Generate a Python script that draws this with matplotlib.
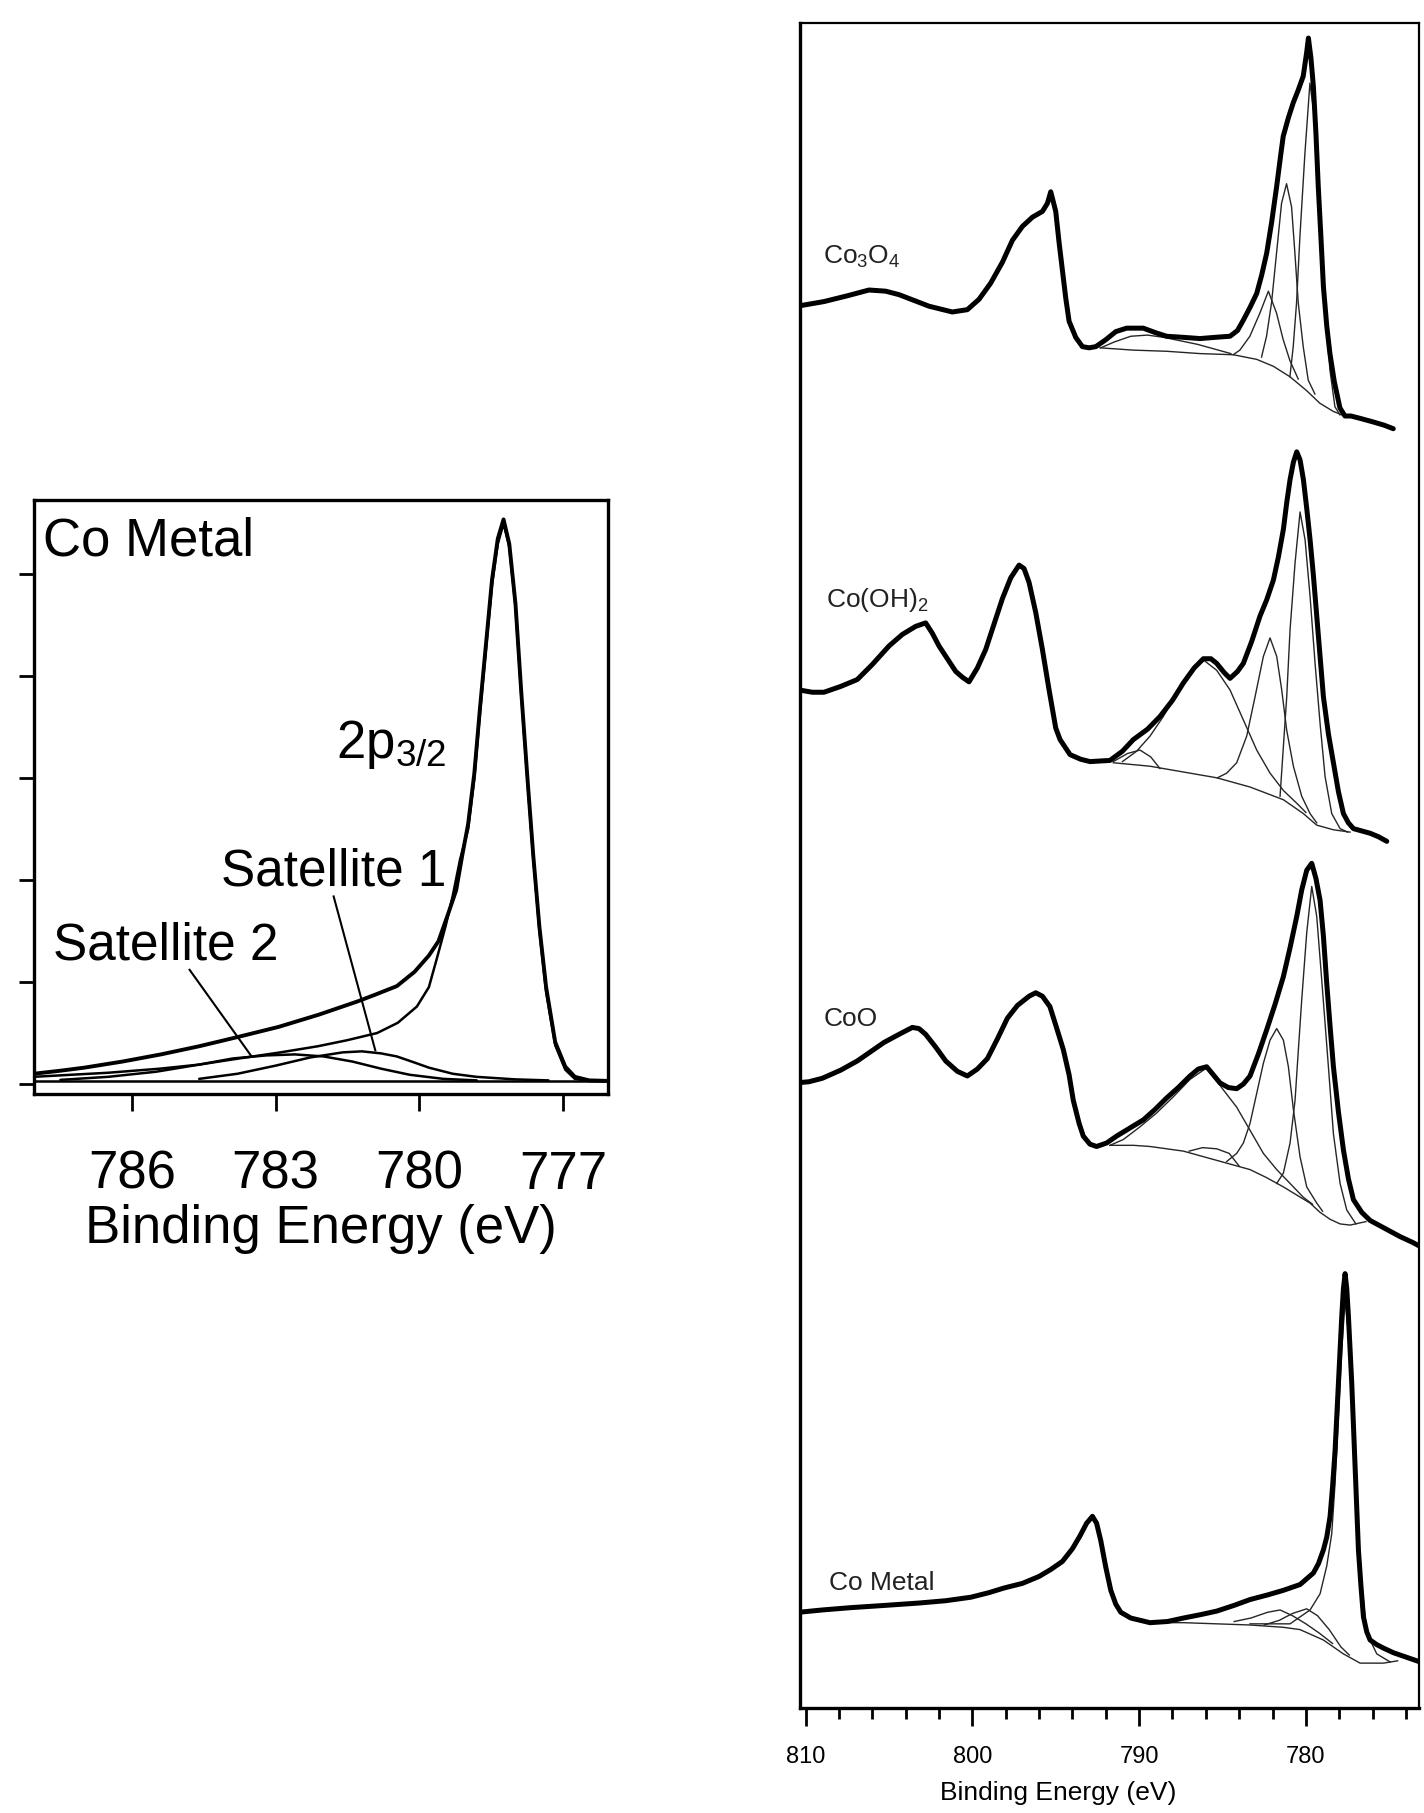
import numpy as np
import matplotlib
matplotlib.use("Agg")
import matplotlib.pyplot as plt
from matplotlib.ticker import MultipleLocator

plt.rcParams['font.family'] = ['Liberation Sans', 'DejaVu Sans']
plt.rcParams['mathtext.fontset'] = 'custom'
plt.rcParams['mathtext.rm'] = 'Liberation Sans'
plt.rcParams['mathtext.it'] = 'Liberation Sans'
plt.rcParams['mathtext.default'] = 'regular'

# ---------------- Left panel: Co metal 2p3/2 fit (binding energy eV, intensity a.u.) ----------------
left_env = [(788.06, 0.10), (787.5, 0.13), (787.0, 0.16), (786.2, 0.22), (785.4, 0.29), (784.6, 0.37),
            (783.8, 0.46), (782.94, 0.56), (782.1, 0.68), (781.29, 0.81), (780.9, 0.88), (780.47, 0.96),
            (780.1, 1.10), (779.8, 1.26), (779.6, 1.40), (779.39, 1.68), (779.23, 1.90), (779.1, 2.25),
            (778.98, 2.55), (778.85, 3.05), (778.73, 3.70), (778.6, 4.35), (778.48, 4.95), (778.36, 5.35),
            (778.24, 5.54), (778.12, 5.30), (777.99, 4.71), (777.87, 3.85), (777.74, 3.00), (777.62, 2.25),
            (777.49, 1.54), (777.35, 0.95), (777.16, 0.41), (776.95, 0.17), (776.75, 0.07), (776.45, 0.035),
            (776.05, 0.03)]
left_main = [(788.06, 0.07), (786.5, 0.11), (785.42, 0.15), (784.6, 0.19), (783.77, 0.25), (782.9, 0.31),
             (782.12, 0.37), (781.5, 0.43), (780.88, 0.50), (780.45, 0.60), (780.05, 0.76), (779.8, 0.95),
             (779.64, 1.22), (779.45, 1.55), (779.3, 1.85), (779.15, 2.2), (778.98, 2.50), (778.85, 3.0),
             (778.73, 3.65), (778.6, 4.3), (778.48, 4.9), (778.36, 5.3), (778.24, 5.5), (778.12, 5.27),
             (777.99, 4.68), (777.87, 3.82), (777.74, 2.97), (777.62, 2.22), (777.49, 1.5), (777.35, 0.9),
             (777.16, 0.38), (776.95, 0.14), (776.75, 0.05), (776.45, 0.03), (776.05, 0.03)]
left_sat1 = [(784.6, 0.05), (783.8, 0.10), (783.0, 0.18), (782.28, 0.26), (781.6, 0.31), (781.2, 0.32),
             (780.8, 0.30), (780.47, 0.27), (780.1, 0.21), (779.8, 0.16), (779.3, 0.10), (778.81, 0.07),
             (778.0, 0.045), (777.3, 0.035)]
left_sat2 = [(787.5, 0.04), (786.5, 0.07), (785.5, 0.12), (784.6, 0.19), (783.9, 0.25), (783.2, 0.28),
             (782.6, 0.29), (782.0, 0.27), (781.4, 0.22), (780.8, 0.15), (780.2, 0.09), (779.5, 0.05),
             (778.8, 0.035)]
left_base = [(788.06, 0.03), (776.05, 0.03)]
left_xticks = [786, 783, 780, 777]
left_yticks = [0, 1, 2, 3, 4, 5]

# ---------------- Right panel: Co 2p spectra (binding energy eV, offset intensity a.u.) ----------------
co3o4_env = [(810.5, 12.13), (808.9, 12.17), (807.5, 12.22), (806.2, 12.27), (805.2, 12.26), (804.4, 12.23),
             (803.5, 12.18), (802.6, 12.13), (801.2, 12.08), (800.3, 12.10), (799.6, 12.19), (798.9, 12.33),
             (798.2, 12.51), (797.6, 12.70), (797.0, 12.82), (796.4, 12.90), (795.8, 12.95), (795.5, 13.02),
             (795.3, 13.12), (795.0, 12.95), (794.8, 12.68), (794.6, 12.44), (794.4, 12.20), (794.2, 12.00),
             (793.8, 11.86), (793.4, 11.78), (793.0, 11.77), (792.6, 11.78), (792.0, 11.84), (791.4, 11.91),
             (790.75, 11.94), (789.75, 11.94), (789.0, 11.90), (788.35, 11.87), (787.3, 11.86), (786.35, 11.85),
             (785.5, 11.86), (784.55, 11.87), (784.1, 11.92), (783.75, 12.01), (783.35, 12.12), (782.95, 12.24),
             (782.65, 12.40), (782.35, 12.59), (782.05, 12.86), (781.75, 13.17), (781.5, 13.45), (781.36, 13.60),
             (781.05, 13.76), (780.76, 13.89), (780.46, 14.00), (780.16, 14.12), (779.95, 14.33), (779.85, 14.45),
             (779.7, 14.28), (779.55, 14.03), (779.4, 13.63), (779.26, 13.17), (779.1, 12.73), (778.95, 12.30),
             (778.75, 11.96), (778.56, 11.72), (778.3, 11.48), (777.96, 11.25), (777.66, 11.18), (777.3, 11.18),
             (776.76, 11.16), (776.0, 11.13), (775.3, 11.10), (774.76, 11.07)]
co3o4_bg = [(792.35, 11.77), (790.35, 11.75), (788.35, 11.74), (786.35, 11.72), (784.35, 11.71), (782.95, 11.67),
            (781.95, 11.61), (780.96, 11.52), (779.96, 11.40), (779.16, 11.29), (778.36, 11.22), (777.66, 11.18)]
co3o4_c1 = [(780.96, 11.52), (780.76, 11.78), (780.56, 12.16), (780.36, 12.73), (780.06, 13.45), (779.76, 14.06),
            (779.46, 13.74), (779.16, 12.88), (778.86, 12.16), (778.56, 11.58), (778.26, 11.26), (777.96, 11.19)]
co3o4_c2 = [(782.66, 11.69), (782.36, 11.87), (782.06, 12.16), (781.76, 12.59), (781.46, 13.02), (781.16, 13.19),
            (780.86, 12.99), (780.66, 12.59), (780.46, 12.16), (780.16, 11.78), (779.86, 11.49), (779.46, 11.37)]
co3o4_c3 = [(784.36, 11.71), (783.96, 11.75), (783.36, 11.87), (782.76, 12.07), (782.25, 12.26), (781.76, 12.07),
            (781.36, 11.84), (780.96, 11.66), (780.46, 11.50)]
co3o4_c4 = [(792.3, 11.77), (791.5, 11.82), (790.5, 11.87), (789.5, 11.88), (788.5, 11.86), (787.5, 11.83),
            (786.5, 11.80), (785.5, 11.76), (784.5, 11.72)]

cooh_env = [(810.4, 8.81), (809.6, 8.79), (808.9, 8.79), (807.9, 8.84), (806.9, 8.90), (806.0, 9.03),
            (805.0, 9.19), (804.2, 9.29), (803.4, 9.36), (802.8, 9.39), (802.4, 9.30), (802.0, 9.19),
            (801.5, 9.08), (801.0, 8.97), (800.6, 8.92), (800.2, 8.88), (799.7, 9.00), (799.2, 9.16),
            (798.7, 9.38), (798.2, 9.60), (797.7, 9.78), (797.2, 9.89), (796.9, 9.86), (796.6, 9.74),
            (796.2, 9.48), (795.8, 9.16), (795.4, 8.81), (795.0, 8.48), (794.74, 8.38), (794.14, 8.25),
            (793.5, 8.21), (792.94, 8.19), (791.75, 8.20), (791.0, 8.28), (790.35, 8.38), (789.5, 8.47),
            (788.75, 8.58), (788.0, 8.72), (787.35, 8.87), (786.7, 9.00), (786.15, 9.08), (785.7, 9.08),
            (785.35, 9.04), (784.9, 8.96), (784.55, 8.91), (784.1, 8.97), (783.75, 9.04), (783.25, 9.23),
            (782.75, 9.45), (782.35, 9.59), (781.95, 9.76), (781.65, 9.96), (781.35, 10.20), (781.15, 10.43),
            (780.95, 10.63), (780.75, 10.78), (780.55, 10.87), (780.35, 10.80), (780.15, 10.63), (779.95, 10.38),
            (779.75, 10.11), (779.55, 9.80), (779.35, 9.45), (779.15, 9.10), (778.95, 8.75), (778.65, 8.43),
            (778.35, 8.18), (778.05, 7.93), (777.75, 7.74), (777.45, 7.66), (777.15, 7.61), (776.65, 7.59),
            (776.15, 7.57), (775.65, 7.54), (775.15, 7.50)]
cooh_bg = [(791.55, 8.18), (789.35, 8.15), (787.35, 8.10), (785.35, 8.05), (783.35, 7.97), (781.35, 7.86),
           (780.15, 7.74), (779.35, 7.64), (778.35, 7.60), (777.35, 7.58)]
cooh_c1 = [(781.55, 7.89), (781.35, 8.32), (781.15, 8.75), (780.95, 9.33), (780.65, 9.91), (780.35, 10.35),
           (780.05, 10.11), (779.75, 9.62), (779.45, 9.04), (779.15, 8.52), (778.85, 8.06), (778.45, 7.74),
           (777.95, 7.61), (777.5, 7.58)]
cooh_c2 = [(785.3, 8.05), (784.75, 8.09), (784.15, 8.18), (783.55, 8.41), (783.05, 8.75), (782.55, 9.10),
           (782.15, 9.26), (781.75, 9.10), (781.45, 8.81), (781.15, 8.46), (780.75, 8.15), (780.25, 7.89),
           (779.75, 7.74), (779.35, 7.66)]
cooh_c3 = [(791.0, 8.19), (790.15, 8.28), (789.35, 8.41), (788.55, 8.58), (787.75, 8.78), (786.95, 8.95),
           (786.15, 9.07), (785.35, 8.98), (784.55, 8.81), (783.75, 8.55), (782.95, 8.29), (782.15, 8.09),
           (781.35, 7.94), (780.55, 7.83), (780.0, 7.75)]
cooh_c4 = [(791.55, 8.19), (790.7, 8.26), (789.95, 8.29), (789.3, 8.23), (788.75, 8.13)]

coo_env = [(810.6, 5.41), (809.8, 5.42), (809.0, 5.45), (807.9, 5.52), (806.9, 5.60), (806.1, 5.68),
           (805.3, 5.76), (804.4, 5.83), (803.6, 5.89), (803.2, 5.88), (802.8, 5.83), (802.2, 5.72),
           (801.6, 5.60), (800.9, 5.51), (800.3, 5.47), (799.7, 5.53), (799.1, 5.62), (798.5, 5.79),
           (797.9, 5.97), (797.3, 6.08), (796.6, 6.16), (796.2, 6.19), (795.8, 6.16), (795.35, 6.07),
           (795.0, 5.91), (794.55, 5.70), (794.2, 5.48), (793.95, 5.26), (793.6, 5.06), (793.35, 4.95),
           (792.95, 4.88), (792.55, 4.86), (791.95, 4.89), (791.35, 4.95), (790.55, 5.02), (789.75, 5.09),
           (789.05, 5.18), (788.35, 5.28), (787.65, 5.37), (786.95, 5.47), (786.45, 5.53), (785.95, 5.55),
           (785.55, 5.48), (785.15, 5.41), (784.65, 5.37), (784.15, 5.36), (783.75, 5.40), (783.35, 5.47),
           (782.85, 5.66), (782.35, 5.87), (781.85, 6.09), (781.35, 6.33), (780.95, 6.58), (780.55, 6.85),
           (780.25, 7.08), (779.95, 7.25), (779.65, 7.31), (779.4, 7.18), (779.15, 6.99), (778.95, 6.68),
           (778.75, 6.27), (778.55, 5.90), (778.35, 5.55), (778.05, 5.16), (777.75, 4.83), (777.45, 4.58),
           (777.15, 4.40), (776.65, 4.29), (776.15, 4.22), (775.25, 4.15), (774.35, 4.08), (773.6, 4.03),
           (772.95, 3.98)]
coo_bg = [(791.75, 4.87), (790.35, 4.87), (789.35, 4.86), (788.35, 4.84), (787.35, 4.82), (786.35, 4.78),
          (785.35, 4.74), (784.35, 4.70), (783.35, 4.66), (782.35, 4.59), (781.35, 4.51), (780.55, 4.44),
          (779.75, 4.37), (779.15, 4.29), (778.55, 4.23), (777.95, 4.19), (777.35, 4.18), (776.4, 4.21)]
coo_c1 = [(781.75, 4.54), (781.35, 4.63), (780.95, 4.89), (780.65, 5.26), (780.45, 5.70), (780.25, 6.13),
          (779.95, 6.71), (779.65, 7.11), (779.35, 6.85), (779.05, 6.30), (778.65, 5.55), (778.35, 4.97),
          (777.95, 4.54), (777.55, 4.31), (777.0, 4.19)]
coo_c2 = [(784.75, 4.73), (784.15, 4.80), (783.75, 4.89), (783.35, 5.06), (782.95, 5.32), (782.55, 5.58),
          (782.15, 5.78), (781.75, 5.88), (781.35, 5.78), (781.05, 5.55), (780.75, 5.18), (780.35, 4.77),
          (779.95, 4.51), (779.35, 4.37), (779.0, 4.30)]
coo_c3 = [(791.75, 4.87), (790.95, 4.92), (789.95, 5.03), (788.95, 5.15), (787.95, 5.29), (786.95, 5.44),
          (785.95, 5.54), (784.95, 5.35), (784.15, 5.20), (783.35, 5.00), (782.55, 4.80), (781.75, 4.66),
          (780.95, 4.54), (780.15, 4.42), (779.6, 4.36)]
coo_c4 = [(787.0, 4.82), (786.2, 4.85), (785.35, 4.84), (784.6, 4.80), (784.0, 4.69)]

com_env = [(810.4, 0.83), (809.0, 0.85), (807.3, 0.87), (805.2, 0.89), (803.2, 0.91), (801.6, 0.93),
           (800.1, 0.96), (799.0, 1.00), (798.1, 1.04), (797.0, 1.08), (796.0, 1.14), (795.3, 1.20),
           (794.6, 1.27), (794.0, 1.38), (793.55, 1.49), (793.15, 1.60), (792.8, 1.66), (792.55, 1.60),
           (792.3, 1.45), (792.0, 1.22), (791.7, 1.02), (791.4, 0.90), (791.1, 0.83), (790.5, 0.78),
           (789.35, 0.74), (788.3, 0.75), (787.35, 0.78), (786.3, 0.81), (785.35, 0.84), (784.3, 0.89),
           (783.35, 0.94), (782.3, 0.98), (781.35, 1.02), (780.35, 1.07), (779.55, 1.17), (779.25, 1.25),
           (778.95, 1.37), (778.75, 1.48), (778.55, 1.66), (778.4, 1.92), (778.25, 2.23), (778.15, 2.52),
           (778.05, 2.81), (777.95, 3.10), (777.85, 3.39), (777.75, 3.63), (777.65, 3.76), (777.55, 3.63),
           (777.45, 3.39), (777.35, 3.10), (777.25, 2.81), (777.15, 2.45), (777.05, 2.09), (776.95, 1.73),
           (776.85, 1.37), (776.7, 1.06), (776.55, 0.79), (776.35, 0.66), (776.15, 0.59), (775.75, 0.55),
           (775.35, 0.52), (774.75, 0.48), (774.15, 0.45), (773.55, 0.42), (772.95, 0.39)]
com_bg = [(789.35, 0.74), (787.35, 0.74), (785.35, 0.73), (783.35, 0.72), (781.35, 0.70), (780.35, 0.68),
          (778.95, 0.59), (777.75, 0.47), (776.75, 0.39), (775.35, 0.39), (774.5, 0.41)]
com_c1 = [(783.35, 0.73), (780.95, 0.73), (779.75, 0.85), (779.15, 0.99), (778.75, 1.23), (778.45, 1.51),
          (778.25, 1.95), (778.05, 2.52), (777.85, 3.10), (777.65, 3.53), (777.35, 3.10), (777.15, 2.38),
          (776.95, 1.66), (776.65, 1.08), (776.35, 0.65), (775.75, 0.47), (774.95, 0.40)]
com_s1 = [(782.5, 0.72), (781.6, 0.76), (780.8, 0.82), (779.95, 0.86), (779.3, 0.80), (778.6, 0.68),
          (777.9, 0.53), (777.4, 0.46)]
com_s2 = [(784.3, 0.75), (783.3, 0.78), (782.3, 0.83), (781.55, 0.85), (780.8, 0.80), (780.0, 0.73),
          (779.2, 0.65), (778.4, 0.56)]

spectrum_labels = [r"$Co_3O_4$", r"$Co(OH)_2$", "CoO", "Co Metal"]
label_pos = [(808.95, 12.50), (808.75, 9.53), (808.9, 5.90), (808.6, 1.02)]
right_major = [810, 800, 790, 780]

# ---------------- Figure ----------------
fig = plt.figure(figsize=(14.24, 18.13), dpi=100)

def xy(pts):
    a = np.array(pts, dtype=float)
    return a[:, 0], a[:, 1]

# Left panel
axL = fig.add_axes([0.0236, 0.3965, 0.4036, 0.3277])
for pts, lw in [(left_base, 1.8), (left_sat2, 1.8), (left_sat1, 1.8), (left_main, 1.8), (left_env, 2.8)]:
    x, y = xy(pts)
    axL.plot(x, y, color='black', lw=lw, solid_capstyle='round', solid_joinstyle='round')
axL.set_xlim(788.06, 776.05)
axL.set_ylim(-0.1, 5.73)
axL.set_xticks(left_xticks)
axL.set_xticklabels([str(t) for t in left_xticks])
axL.set_yticks(left_yticks)
axL.set_yticklabels([])
axL.tick_params(axis='x', direction='out', length=12, width=2, labelsize=38, pad=28)
axL.tick_params(axis='y', direction='out', length=11, width=2)
for s in axL.spines.values():
    s.set_linewidth(2.4)
axL.set_xlabel("Binding Energy (eV)", fontsize=38, labelpad=3)
axL.text(787.86, 5.19, "Co Metal", fontsize=38, ha='left', va='baseline')
axL.text(781.75, 3.20, r"$2p_{3/2}$", fontsize=38, ha='left', va='baseline')
axL.text(784.14, 1.95, "Satellite 1", fontsize=37, ha='left', va='baseline')
axL.text(787.65, 1.22, "Satellite 2", fontsize=37, ha='left', va='baseline')
axL.plot([781.79, 780.92], [1.84, 0.33], color='black', lw=1.5)
axL.plot([784.80, 783.52], [1.12, 0.28], color='black', lw=1.5)

# Right panel
axR = fig.add_axes([0.5621, 0.0578, 0.4346, 0.9295])
comp_sets = [
    (co3o4_env, [co3o4_bg, co3o4_c1, co3o4_c2, co3o4_c3, co3o4_c4]),
    (cooh_env, [cooh_bg, cooh_c1, cooh_c2, cooh_c3, cooh_c4]),
    (coo_env, [coo_bg, coo_c1, coo_c2, coo_c3, coo_c4]),
    (com_env, [com_bg, com_c1, com_s1, com_s2]),
]
for env, comps in comp_sets:
    for c in comps:
        x, y = xy(c)
        axR.plot(x, y, color='#262626', lw=1.0)
    x, y = xy(env)
    axR.plot(x, y, color='black', lw=3.6, solid_capstyle='round', solid_joinstyle='round')

for lab, (ex, iy) in zip(spectrum_labels, label_pos):
    axR.text(ex, iy, lab, fontsize=19, color='#222222', ha='left', va='baseline')

axR.set_xlim(810.31, 773.2)
axR.set_ylim(0, 14.58)
axR.set_xticks(right_major)
axR.set_xticklabels([str(t) for t in right_major])
axR.xaxis.set_minor_locator(MultipleLocator(2))
axR.set_yticks([])
axR.tick_params(axis='x', which='major', direction='out', length=13, width=2, labelsize=17, pad=14)
axR.tick_params(axis='x', which='minor', direction='out', length=8, width=2)
for name, s in axR.spines.items():
    s.set_linewidth(2.4 if name in ('left', 'bottom') else 1.6)
axR.set_xlabel("Binding Energy (eV)", fontsize=19)
axR.xaxis.set_label_coords(0.417, -0.043)

fig.savefig("out.png", dpi=100)
